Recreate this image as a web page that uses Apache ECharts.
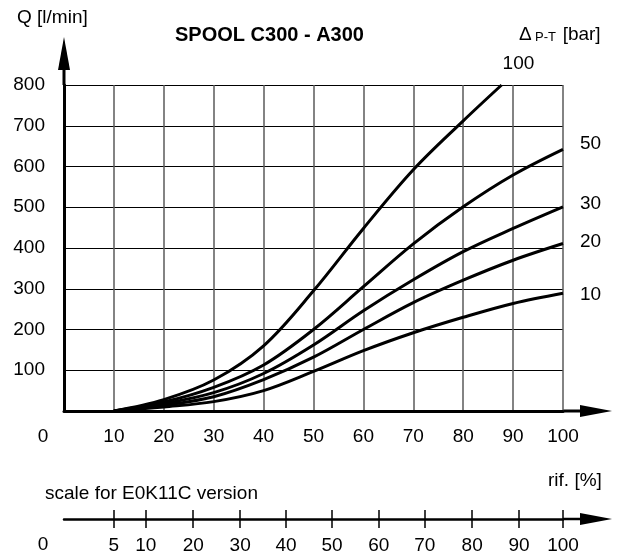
<!DOCTYPE html>
<html>
<head>
<meta charset="utf-8">
<script src="https://cdn.jsdelivr.net/npm/echarts@6/dist/echarts.min.js"></script>
<style>
  html, body { margin: 0; padding: 0; background: #fff; }
  #chart { width: 630px; height: 556px; }
</style>
</head>
<body>
<div id="chart"></div>
<script>
// rif. [%] on the main axis
var rif = [10, 20, 30, 40, 50, 60, 70, 80, 90, 100];
// Q [l/min] for each pressure drop P-T [bar]
var flow10 = [0, 10, 23, 50, 97, 148, 192, 230, 264, 289];
var flow20 = [0, 14, 35, 77, 132, 200, 266, 321, 370, 411];
var flow30 = [0, 18, 45, 92, 162, 246, 322, 391, 448, 501];
var flow50 = [0, 22, 58, 113, 200, 305, 410, 501, 579, 642];
var flow100 = [0, 28, 76, 160, 295, 448, 592, 712];
var flow100End = [87.7, 800];   // curve 100 leaves the chart at the top
var curveNames = ['10', '20', '30', '50', '100'];

// second scale (E0K11C version), placed under the main rif. scale
var rifE0Pos = [10, 16.4, 25.9, 35.3, 44.5, 53.7, 63.1, 72.3, 81.8, 91.2, 100];
var rifE0Labels = ['5', '10', '20', '30', '40', '50', '60', '70', '80', '90', '100'];

var FONT = '"Liberation Sans", Arial, sans-serif';
var chart = echarts.init(document.getElementById('chart'), null, { renderer: 'canvas' });

function pairs(ys) {
  var out = [];
  for (var i = 0; i < ys.length; i++) out.push([rif[i], ys[i]]);
  return out;
}

var data100 = pairs(flow100);
data100.push(flow100End);
var curves = [pairs(flow10), pairs(flow20), pairs(flow30), pairs(flow50), data100];
// end label placement (distance to the right, vertical nudge)
var labelDist = [17, 17, 17, 17, 1];
var labelDy = [2, -1.5, -3.5, -6, -21];

var series = curves.map(function (d, i) {
  return {
    name: curveNames[i],
    type: 'line',
    data: d,
    smooth: 0.35,
    symbol: 'none',
    lineStyle: { color: '#000', width: 3 },
    endLabel: {
      show: true,
      formatter: '{a}',
      distance: labelDist[i],
      offset: [0, labelDy[i]],
      color: '#000',
      fontSize: 19,
      fontFamily: FONT
    },
    z: 5
  };
});

var G = { left: 64, right: 67, top: 85, bottom: 145 };
var x0 = G.left, xEnd = 630 - G.right, yTop = G.top, yBase = 556 - G.bottom;
var yScale = 518;

var option = {
  animation: false,
  backgroundColor: '#fff',
  title: {
    text: 'SPOOL C300 - A300',
    left: 175,
    top: 25,
    padding: 0,
    textStyle: { fontFamily: FONT, fontSize: 20, fontWeight: 'bold', color: '#000' }
  },
  grid: [
    { left: G.left, right: G.right, top: G.top, bottom: G.bottom },
    { left: G.left, right: G.right, top: yScale, height: 1 }
  ],
  xAxis: [
    {
      type: 'value', gridIndex: 0, min: 0, max: 100, interval: 10,
      axisLine: { show: true, onZero: false, lineStyle: { color: '#000', width: 3 } },
      axisTick: { show: false },
      axisLabel: {
        showMinLabel: false, margin: 16, color: '#000', fontSize: 19, fontFamily: FONT
      },
      splitLine: { show: true, lineStyle: { color: '#5a5a5a', width: 1.5 } }
    },
    {
      type: 'value', gridIndex: 1, min: 0, max: 100, position: 'bottom',
      axisLine: { show: true, onZero: false, lineStyle: { color: '#000', width: 2.5 } },
      axisTick: { show: true, length: 9, customValues: rifE0Pos, lineStyle: { color: '#000', width: 1.5 } },
      axisLabel: {
        customValues: rifE0Pos, margin: 17, color: '#000', fontSize: 19, fontFamily: FONT,
        formatter: function (v) { return rifE0Labels[rifE0Pos.indexOf(v)]; }
      },
      splitLine: { show: false }
    },
    {
      type: 'value', gridIndex: 1, min: 0, max: 100, position: 'top',
      axisLine: { show: false },
      axisTick: { show: true, length: 9, customValues: rifE0Pos, lineStyle: { color: '#000', width: 1.5 } },
      axisLabel: { show: false },
      splitLine: { show: false }
    }
  ],
  yAxis: [
    {
      type: 'value', gridIndex: 0, min: 0, max: 800, interval: 100,
      axisLine: { show: true, onZero: false, lineStyle: { color: '#000', width: 3 } },
      axisTick: { show: false },
      axisLabel: { showMinLabel: false, margin: 19, color: '#000', fontSize: 19, fontFamily: FONT },
      splitLine: { show: true, lineStyle: { color: '#000', width: 1 } }
    },
    {
      type: 'value', gridIndex: 1, show: false, min: 0, max: 1
    }
  ],
  series: series,
  graphic: [
    // axis extensions and arrow heads
    { type: 'line', shape: { x1: x0, y1: yTop, x2: x0, y2: 66 }, style: { stroke: '#000', lineWidth: 3 } },
    { type: 'polygon', shape: { points: [[x0 - 6, 70], [x0 + 6, 70], [x0, 37]] }, style: { fill: '#000' } },
    { type: 'line', shape: { x1: xEnd, y1: yBase, x2: 584, y2: yBase }, style: { stroke: '#000', lineWidth: 3 } },
    { type: 'polygon', shape: { points: [[580, yBase - 6], [580, yBase + 6], [612, yBase]] }, style: { fill: '#000' } },
    { type: 'line', shape: { x1: xEnd, y1: yScale + 1, x2: 584, y2: yScale + 1 }, style: { stroke: '#000', lineWidth: 2.5 } },
    { type: 'polygon', shape: { points: [[580, yScale - 5], [580, yScale + 7], [612, yScale + 1]] }, style: { fill: '#000' } },
    // texts
    { type: 'text', left: 17, top: 8, style: { text: 'Q [l/min]', fill: '#000', font: '19px ' + FONT } },
    {
      type: 'text', left: 519, top: 25,
      style: {
        text: '{a|Δ} {b|P-T}  {a|[bar]}',
        fill: '#000',
        rich: {
          a: { fontSize: 19, fontFamily: FONT, fill: '#000', verticalAlign: 'bottom' },
          b: { fontSize: 13, fontFamily: FONT, fill: '#000', verticalAlign: 'bottom' }
        }
      }
    },
    { type: 'text', x: 43, y: 437, style: { text: '0', fill: '#000', font: '19px ' + FONT, align: 'center', verticalAlign: 'middle' } },
    { type: 'text', x: 43, y: 545, style: { text: '0', fill: '#000', font: '19px ' + FONT, align: 'center', verticalAlign: 'middle' } },
    { type: 'text', left: 45, top: 484, style: { text: 'scale for E0K11C version', fill: '#000', font: '19px ' + FONT } },
    { type: 'text', left: 548, top: 471, style: { text: 'rif. [%]', fill: '#000', font: '19px ' + FONT } }
  ]
};

chart.setOption(option);
</script>
</body>
</html>
